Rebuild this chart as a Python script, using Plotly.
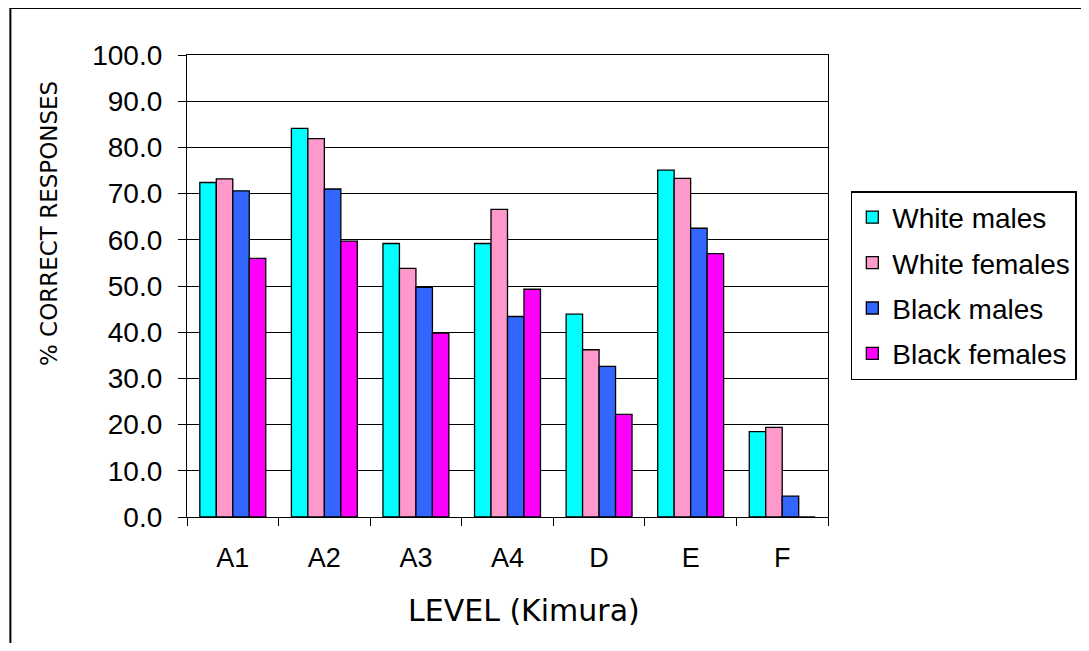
import plotly.graph_objects as go

categories = ["A1", "A2", "A3", "A4", "D", "E", "F"]
white_males = [72.4, 84.1, 59.2, 59.2, 43.9, 75.1, 18.5]
white_females = [73.2, 81.9, 53.8, 66.6, 36.2, 73.3, 19.4]
black_males = [70.6, 71.0, 49.7, 43.4, 32.6, 62.5, 4.5]
black_females = [56.0, 59.7, 39.8, 49.3, 22.2, 57.0, 0.0]

series = [
    ("White males", white_males, "#00FFFF"),
    ("White females", white_females, "#FF99CC"),
    ("Black males", black_males, "#3366FF"),
    ("Black females", black_females, "#FF00FF"),
]

fig = go.Figure()
for i, (name, vals, col) in enumerate(series):
    fig.add_trace(go.Bar(
        x=categories, y=vals, name=name, legendgroup=f"g{i}",
        marker=dict(color=col, line=dict(color="black", width=1.3)),
    ))

# page has an 8px body margin; work in target coords and subtract it
OFF = 8
W, H = 1089 - OFF, 651 - 2 * OFF
L, T = 187 - OFF, 55 - OFF
pw, ph = 646, 462
R = W - L - pw
B = H - T - ph


def px(xt):
    return (xt - OFF - L) / pw


def py(yt):
    return (T + ph - (yt - OFF)) / ph


fig.update_layout(
    width=W, height=H,
    margin=dict(l=L, r=R, t=T, b=B),
    paper_bgcolor="white", plot_bgcolor="white",
    barmode="group", bargap=0.28, bargroupgap=0,
    font=dict(family="Liberation Sans, Arial", size=28, color="black"),
    showlegend=True,
    legend=dict(
        x=px(856), y=py(191),
        xanchor="left", yanchor="top",
        bordercolor="black", borderwidth=1.5,
        font=dict(family="Liberation Sans, Arial", size=28),
        tracegroupgap=6, traceorder="grouped",
    ),
    xaxis=dict(
        showline=True, linecolor="black", linewidth=1.3, mirror=True,
        ticks="outside", ticklen=8, tickcolor="black", tickwidth=1.3,
        tickson="boundaries", ticklabelstandoff=16,
        tickfont=dict(size=27),
    ),
    yaxis=dict(
        range=[0, 100], dtick=10, tickformat=".1f",
        showline=True, linecolor="black", linewidth=1.3, mirror=True,
        showgrid=True, gridcolor="black", gridwidth=1.3,
        ticks="outside", ticklen=8, tickcolor="black", tickwidth=1.3,
        ticklabelstandoff=10,
        tickfont=dict(size=28),
    ),
    shapes=[
        dict(type="line", xref="paper", yref="paper",
             x0=px(8), x1=1.6, y0=py(8), y1=py(8),
             line=dict(color="black", width=2)),
        dict(type="line", xref="paper", yref="paper",
             x0=px(9), x1=px(9), y0=-1, y1=py(8),
             line=dict(color="black", width=2)),
    ],
    annotations=[
        dict(text="LEVEL (Kimura)", xref="paper", yref="paper",
             x=px(527), y=py(610), showarrow=False,
             xanchor="center", yanchor="middle",
             font=dict(family="DejaVu Sans", size=30)),
        dict(text="% CORRECT RESPONSES", xref="paper", yref="paper",
             x=px(48), y=py(224), showarrow=False,
             xanchor="center", yanchor="middle", textangle=-90,
             font=dict(family="DejaVu Sans", size=23)),
    ],
)

fig.write_html("out.html")
